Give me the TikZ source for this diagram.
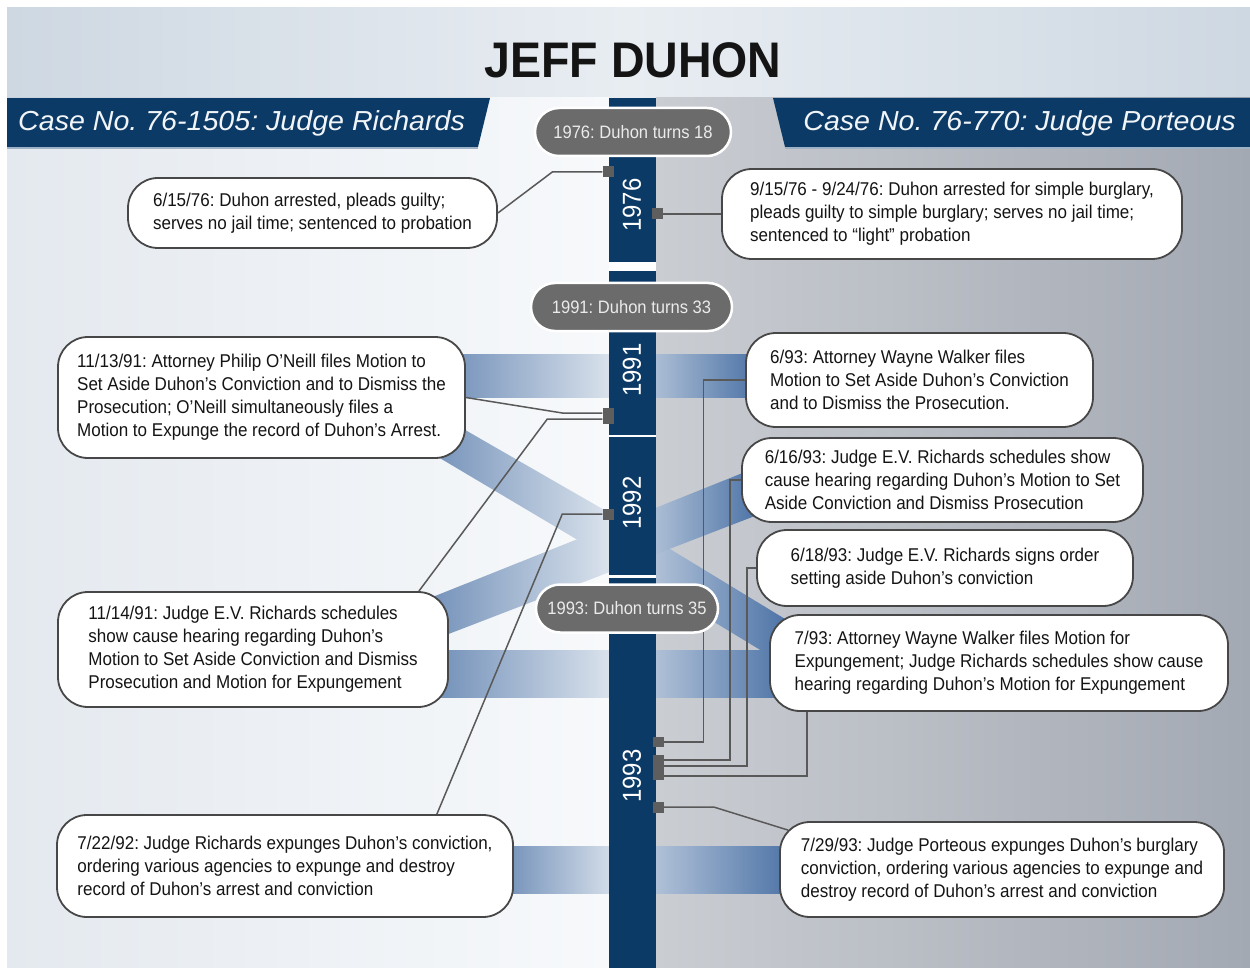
\documentclass[tikz,border=0pt]{standalone}
\usepackage{fontspec}
\setmainfont{Liberation Sans}
\newfontfamily\bodyfont{Liberation Sans}[FakeStretch=0.92]
\newfontfamily\headfont{Liberation Sans}[FakeStretch=1.04]
\newfontfamily\titlefont{Liberation Sans}[FakeStretch=0.93]
\usetikzlibrary{calc}
\frenchspacing
\definecolor{navy}{HTML}{0C3A66}
\definecolor{pillgray}{HTML}{6B6B6B}
\definecolor{linegray}{HTML}{595959}
\definecolor{sqgray}{HTML}{5E5E5E}
\definecolor{boxline}{HTML}{474747}
\definecolor{ribbon}{HTML}{4A71A5}
\definecolor{ribbonlt}{HTML}{E8EDF3}
\definecolor{titlebg}{HTML}{CED8E2}
\definecolor{titlebgmid}{HTML}{E8EDF2}
\definecolor{leftbg}{HTML}{E4E9EF}
\definecolor{leftbgmid}{HTML}{F7F9FB}
\definecolor{rightbg}{HTML}{CACDD2}
\definecolor{rightbgend}{HTML}{A3A9B3}
\definecolor{textdark}{HTML}{141414}
\definecolor{headtext}{HTML}{F2F5F8}
\definecolor{headline}{HTML}{9DB2C7}
\tikzset{
  evbox/.style={draw=boxline, line width=1.8pt, fill=white, rounded corners=30pt, align=left,
    font=\bodyfont\fontsize{18.5}{23}\selectfont, text=textdark, inner sep=0pt},
  pill/.style={fill=pillgray, draw=white, line width=2.5pt, rounded corners=24pt,
    minimum height=48pt, inner sep=0pt, font=\bodyfont\fontsize{18}{20}\selectfont, text=white!92!black},
  yearlbl/.style={rotate=90, text=white, inner sep=0pt, font=\bodyfont\fontsize{26}{26}\selectfont},
  sq/.style={fill=sqgray, minimum width=11pt, minimum height=11pt, inner sep=0pt},
  conn/.style={draw=linegray, line width=1.5pt},
  headtxt/.style={text=headtext, inner sep=0pt, font=\headfont\itshape\fontsize{27.5}{27.5}\selectfont},
  ribL/.style={left color=ribbon!80!white, right color=ribbonlt},
  ribR/.style={left color=ribbonlt!75!ribbon, right color=ribbon},
}
\begin{document}
\begin{tikzpicture}[x=1pt,y=-1pt]
\useasboundingbox (0,0) rectangle (1250,968);
\fill[white] (0,0) rectangle (1250,968);
% backgrounds
\shade[left color=titlebg, right color=titlebg, middle color=titlebgmid] (7,8) rectangle (1250,98);
\shade[left color=leftbg, right color=leftbgmid] (7,98) rectangle (609,968);
\shade[left color=rightbg, right color=rightbgend] (656,98) rectangle (1250,968);
% header bands
\fill[navy] (7,98) -- (490,98) -- (478,147) -- (7,147) -- cycle;
\fill[navy] (773,98) -- (1250,98) -- (1250,147) -- (785,147) -- cycle;
\draw[headline, line width=2pt] (7,148) -- (478,148);
\draw[headline, line width=2pt] (785,148) -- (1250,148);
% ribbons
\shade[ribL] (440,354) rectangle (633,397);
\shade[ribR] (633,354) rectangle (760,397);
\shade[ribL] (420,404) -- (633,526.5) -- (633,572.8) -- (420,446.3) -- cycle;
\shade[ribR] (633,526.5) -- (790,622) -- (790,668) -- (633,572.8) -- cycle;
\shade[ribL] (420,602) -- (633,517) -- (633,563) -- (420,645) -- cycle;
\shade[ribR] (633,517) -- (760,466) -- (760,514) -- (633,563) -- cycle;
\shade[ribL] (430,650) rectangle (633,697);
\shade[ribR] (633,650) rectangle (790,697);
\shade[ribL] (500,846) rectangle (633,893);
\shade[ribR] (633,846) rectangle (795,893);
% timeline bar
\fill[navy] (609,98) rectangle (656,968);
\fill[white] (609,262) rectangle (656,271);
\fill[white] (609,434.5) rectangle (656,437);
\fill[white] (609,575) rectangle (656,578);
\node[yearlbl] (y76) at (632,205) {1976};
\node[yearlbl] (y91) at (632,370) {1991};
\node[yearlbl] (y92) at (632,503) {1992};
\node[yearlbl] (y93) at (632,776) {1993};
% title and headers
\node[anchor=base, inner sep=0pt, font=\titlefont\bfseries\fontsize{50}{50}\selectfont, text=black!92] (title) at (633,78) {JEFF DUHON};
\node[headtxt, anchor=base west] (hl) at (18,131) {Case No. 76-1505: Judge Richards};
\node[headtxt, anchor=base east] (hr) at (1236,131) {Case No. 76-770: Judge Porteous};
% squares
\node[sq] (s76L) at (608,172) {};
\node[sq] (s76R) at (657.5,214) {};
\node[sq, minimum height=16pt] (s91) at (608,416) {};
\node[sq] (s92) at (608,514) {};
\node[sq, minimum height=10pt] (s93a) at (658,742) {};
\node[sq, minimum height=25pt] (s93b) at (658,767.5) {};
\node[sq] (s93c) at (658,807) {};
% event boxes
\node[evbox, minimum width=369pt, minimum height=70pt] (L1) at (312.5,213) {6/15/76: Duhon arrested, pleads guilty;\\serves no jail time; sentenced to probation};
\node[evbox, minimum width=407pt, minimum height=121pt] (L2) at (261.5,397.5) {11/13/91: Attorney Philip O’Neill files Motion to\\Set Aside Duhon’s Conviction and to Dismiss the\\Prosecution; O’Neill simultaneously files a\\Motion to Expunge the record of Duhon’s Arrest.};
\node[evbox, minimum width=390pt, minimum height=115pt] (L3) at (253,649.5) {11/14/91: Judge E.V. Richards schedules\\show cause hearing regarding Duhon’s\\Motion to Set Aside Conviction and Dismiss\\Prosecution and Motion for Expungement};
\node[evbox, minimum width=456pt, minimum height=102pt] (L4) at (285,866) {7/22/92: Judge Richards expunges Duhon’s conviction,\\ordering various agencies to expunge and destroy\\record of Duhon’s arrest and conviction};
\node[evbox, minimum width=460pt, minimum height=90pt] (R1) at (952,214) {9/15/76 - 9/24/76: Duhon arrested for simple burglary,\\pleads guilty to simple burglary; serves no jail time;\\sentenced to “light” probation};
\node[evbox, minimum width=347pt, minimum height=94pt] (R2) at (919.5,380) {6/93: Attorney Wayne Walker files\\Motion to Set Aside Duhon’s Conviction\\and to Dismiss the Prosecution.};
\node[evbox, minimum width=401pt, minimum height=84pt] (R3) at (942.5,480) {6/16/93: Judge E.V. Richards schedules show\\cause hearing regarding Duhon’s Motion to Set\\Aside Conviction and Dismiss Prosecution};
\node[evbox, minimum width=376pt, minimum height=76pt] (R4) at (945,568) {6/18/93: Judge E.V. Richards signs order\\setting aside Duhon’s conviction};
\node[evbox, minimum width=458pt, minimum height=96pt] (R5) at (999,663) {7/93: Attorney Wayne Walker files Motion for\\Expungement; Judge Richards schedules show cause\\hearing regarding Duhon’s Motion for Expungement};
\node[evbox, minimum width=444pt, minimum height=95pt] (R6) at (1002,869.5) {7/29/93: Judge Porteous expunges Duhon’s burglary\\conviction, ordering various agencies to expunge and\\destroy record of Duhon’s arrest and conviction};
% connectors
\draw[conn] (s76L.west) -- ++(-50,0) -- (L1.east);
\draw[conn] (s76R.east) -- (R1.west);
\draw[conn] ($(s91.west)+(0,-3)$) -- ++(-40,0) -- (L2.east);
\draw[conn] ($(s91.west)+(0,3)$) -- ++(-55,0) -- ($(L3.north east)+(-30,0)$);
\draw[conn] (s92.west) -- ++(-40,0) -- ($(L4.north east)+(-77,0)$);
\draw[conn] (s93a.east) -- ++(40,0) |- (R2.west);
\draw[conn] ($(s93b.east)+(0,-7.5)$) -- ++(66.5,0) |- (R3.west);
\draw[conn] ($(s93b.east)+(0,-1.5)$) -- ++(83.5,0) |- (R4.west);
\draw[conn] ($(s93b.east)+(0,8.5)$) -| ($(R5.south west)+(38,0)$);
\draw[conn] (s93c.east) -- ++(50,0) -- ($(R6.north west)+(9,9)$);
% age pills
\node[pill, minimum width=196pt] (p76) at (633,132) {1976: Duhon turns 18};
\node[pill, minimum width=201pt] (p91) at (631.5,307) {1991: Duhon turns 33};
\node[pill, minimum width=182pt] (p93) at (627,608.5) {1993: Duhon turns 35};
\end{tikzpicture}
\end{document}
